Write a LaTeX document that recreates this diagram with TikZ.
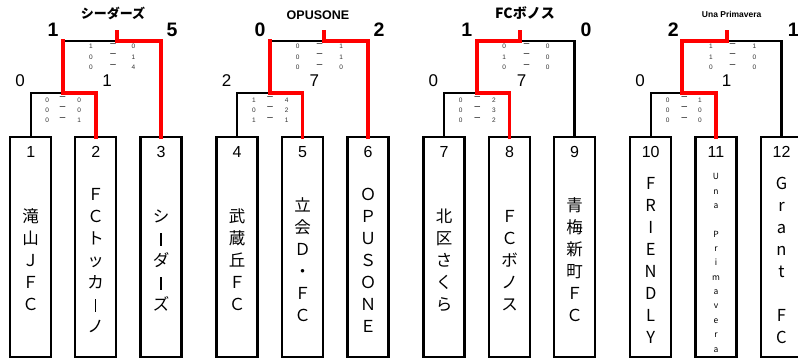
\documentclass[tikz,border=0pt]{standalone}
\usepackage{fontspec}
\setmainfont{Liberation Sans}
\newfontfamily\jp{Noto Sans CJK JP}
\newcommand\Ln{\strut}
\newcommand\Vbar{\rule[-1pt]{1.4pt}{13pt}}
\begin{document}
\begin{tikzpicture}[x=1pt,y=-1pt,
  blk/.style={line width=2.2pt, line join=miter, line cap=rect},
  redl/.style={line width=3.8pt, red, line join=miter, line cap=rect},
  teambox/.style={draw, line width=2.2pt, minimum width=41pt, minimum height=220pt, inner sep=0pt, outer sep=0pt},
  numlbl/.style={font=\fontsize{16}{16}\selectfont, anchor=base, inner sep=0pt},
  namelbl/.style={font=\jp\fontsize{16.5}{22}\selectfont, align=center, inner sep=0pt},
  smalllbl/.style={font=\jp\fontsize{8.5}{14.36}\selectfont, align=center, inner sep=0pt},
  bigscore/.style={font=\bfseries\fontsize{19.5}{20}\selectfont, anchor=base, inner sep=0pt},
  midscore/.style={font=\fontsize{17}{18}\selectfont, anchor=base, inner sep=0pt},
  tinynum/.style={font=\fontsize{6.5}{7}\selectfont, anchor=base, inner sep=0pt, text=black!80},
  tinydash/.style={font=\jp\fontsize{7}{7}\selectfont, anchor=center, inner sep=0pt},
  jtitle/.style={font=\jp\bfseries\fontsize{13}{14}\selectfont, anchor=base, inner sep=0pt},
  ltitle/.style={font=\bfseries\fontsize{12.5}{14}\selectfont, anchor=base, inner sep=0pt},
]
\useasboundingbox (0,0) rectangle (798,360);

% team boxes and numbers
\foreach \i/\x in {1/30.7,2/95.7,3/161,4/237,5/302.5,6/368,7/444,8/509.5,9/574.5,10/650.7,11/716,12/781.5}{
  \node[teambox] (b\i) at (\x,247.2) {};
  \node[numlbl] (n\i) at (\x,157.3) {\i};
}

% team names
\node[namelbl] (t1) at (30.7,262.5) {\Ln 滝\\\Ln 山\\\Ln Ｊ\\\Ln Ｆ\\\Ln Ｃ};
\node[namelbl] (t2) at (95.7,262.5) {\Ln Ｆ\\\Ln Ｃ\\\Ln ト\\\Ln ッ\\\Ln カ\\\Ln \Vbar\\\Ln ノ};
\node[namelbl] (t3) at (161,262.5) {\Ln シ\\\Ln \Vbar\\\Ln ダ\\\Ln \Vbar\\\Ln ズ};
\node[namelbl] (t4) at (237,262.5) {\Ln 武\\\Ln 蔵\\\Ln 丘\\\Ln Ｆ\\\Ln Ｃ};
\node[namelbl] (t5) at (302.5,262.5) {\Ln 立\\\Ln 会\\\Ln Ｄ\\\Ln ・\\\Ln Ｆ\\\Ln Ｃ};
\node[namelbl] (t6) at (368,262.5) {\Ln Ｏ\\\Ln Ｐ\\\Ln Ｕ\\\Ln Ｓ\\\Ln Ｏ\\\Ln Ｎ\\\Ln Ｅ};
\node[namelbl] (t7) at (444,262.5) {\Ln 北\\\Ln 区\\\Ln さ\\\Ln く\\\Ln ら};
\node[namelbl] (t8) at (509.5,262.5) {\Ln Ｆ\\\Ln Ｃ\\\Ln ボ\\\Ln ノ\\\Ln ス};
\node[namelbl] (t9) at (574.5,262.5) {\Ln 青\\\Ln 梅\\\Ln 新\\\Ln 町\\\Ln Ｆ\\\Ln Ｃ};
\node[namelbl] (t10) at (650.7,262.5) {\Ln F\\\Ln R\\\Ln I\\\Ln E\\\Ln N\\\Ln D\\\Ln L\\\Ln Y};
\node[smalllbl] (t11) at (716,263) {\Ln U\\\Ln n\\\Ln a\\\Ln\\\Ln P\\\Ln r\\\Ln i\\\Ln m\\\Ln a\\\Ln v\\\Ln e\\\Ln r\\\Ln a};
\node[namelbl] (t12) at (781.5,262.5) {\Ln G\\\Ln r\\\Ln a\\\Ln n\\\Ln t\\\Ln\\\Ln F\\\Ln C};

% bracket junctions
\coordinate (g1Lm) at (63,92.7);   \coordinate (g1Um) at (63,41);
\coordinate (g1Tm) at (117,41);    \coordinate (g1T) at (117,31.9);
\coordinate (g2Lm) at (270,92.7);  \coordinate (g2Um) at (270,41);
\coordinate (g2Tm) at (324,41);    \coordinate (g2T) at (324,31.9);
\coordinate (g3Lm) at (476.7,92.7);\coordinate (g3Um) at (476.7,41);
\coordinate (g3Tm) at (520,41);    \coordinate (g3T) at (520,31.9);
\coordinate (g4Lm) at (682.3,92.7);\coordinate (g4Um) at (682.3,41);
\coordinate (g4Tm) at (726.7,41);  \coordinate (g4T) at (726.7,31.9);

% black connectors
\draw[blk] (b1.north) |- (g1Lm);
\draw[blk] (g1Um) -- (g1Tm);
\draw[blk] (b4.north) |- (g2Lm);
\draw[blk] (g2Um) -- (g2Tm);
\draw[blk] (b7.north) |- (g3Lm);
\draw[blk] (g3Tm) -| (b9.north);
\draw[blk] (b10.north) |- (g4Lm);
\draw[blk] (g4Tm) -| (b12.north);

% red (winner) connectors
\draw[redl] (b2.north) |- (g1Lm) -- (g1Um);
\draw[redl] (g1T) -- (g1Tm) -| (b3.north);
\draw[redl] (b5.north) |- (g2Lm) -- (g2Um);
\draw[redl] (g2T) -- (g2Tm) -| (b6.north);
\draw[redl] (b8.north) |- (g3Lm) -- (g3Um) -- (g3Tm) -- (g3T);
\draw[redl] (b11.north) |- (g4Lm) -- (g4Um) -- (g4Tm) -- (g4T);

% titles
\node[jtitle] (ti1) at (113,18.5) {シーダーズ};
\node[ltitle] (ti2) at (318,19) {OPUSONE};
\node[jtitle, font=\jp\bfseries\fontsize{14}{15}\selectfont] (ti3) at (525,18.5) {FCボノス};
\node[ltitle, font=\bfseries\fontsize{8.5}{9}\selectfont] (ti4) at (731.7,17.3) {Una Primavera};

% big scores (final)
\node[bigscore] (f1a) at (53,36.7) {1};
\node[bigscore] (f1b) at (172,36.7) {5};
\node[bigscore] (f2a) at (260,36.7) {0};
\node[bigscore] (f2b) at (379,36.7) {2};
\node[bigscore] (f3a) at (466.7,36.7) {1};
\node[bigscore] (f3b) at (586,36.7) {0};
\node[bigscore] (f4a) at (673.3,36.7) {2};
\node[bigscore] (f4b) at (793.3,36.7) {1};

% scores (first round)
\node[midscore] (m1a) at (20,86) {0};
\node[midscore] (m1b) at (107,86) {1};
\node[midscore] (m2a) at (226.7,86) {2};
\node[midscore] (m2b) at (314.3,86) {7};
\node[midscore] (m3a) at (433.3,86) {0};
\node[midscore] (m3b) at (521.7,86) {7};
\node[midscore] (m4a) at (640,86) {0};
\node[midscore] (m4b) at (726.7,86) {1};

% period scores
\foreach \nm/\xl/\xd/\xr/\y/\a/\b in {
  u1a/91/113/133.5/48.5/1/0, u1b/91/113/133.5/59/0/1, u1c/91/113/133.5/69.5/0/4,
  l1a/47.3/62.5/79.3/102/0/0, l1b/47.3/62.5/79.3/112.2/0/0, l1c/47.3/62.5/79.3/122.5/0/1,
  u2a/297.7/319.5/341.3/48.5/0/1, u2b/297.7/319.5/341.3/59/0/1, u2c/297.7/319.5/341.3/69.5/0/0,
  l2a/254/270/286.7/102/1/4, l2b/254/270/286.7/112.2/0/2, l2c/254/270/286.7/122.5/1/1,
  u3a/504.3/526.7/547.7/48.5/0/0, u3b/504.3/526.7/547.7/59/1/0, u3c/504.3/526.7/547.7/69.5/0/0,
  l3a/460.7/477.3/494/102/0/2, l3b/460.7/477.3/494/112.2/0/3, l3c/460.7/477.3/494/122.5/0/2,
  u4a/711/732.7/754.3/48.5/1/1, u4b/711/732.7/754.3/59/1/0, u4c/711/732.7/754.3/69.5/0/0,
  l4a/667.7/684.3/700/102/0/1, l4b/667.7/684.3/700/112.2/0/0, l4c/667.7/684.3/700/122.5/0/0}{
  \node[tinynum] (\nm L) at (\xl,\y) {\a};
  \node[tinydash] (\nm D) at (\xd,\y-4) {ー};
  \node[tinynum] (\nm R) at (\xr,\y) {\b};
}
\end{tikzpicture}
\end{document}
